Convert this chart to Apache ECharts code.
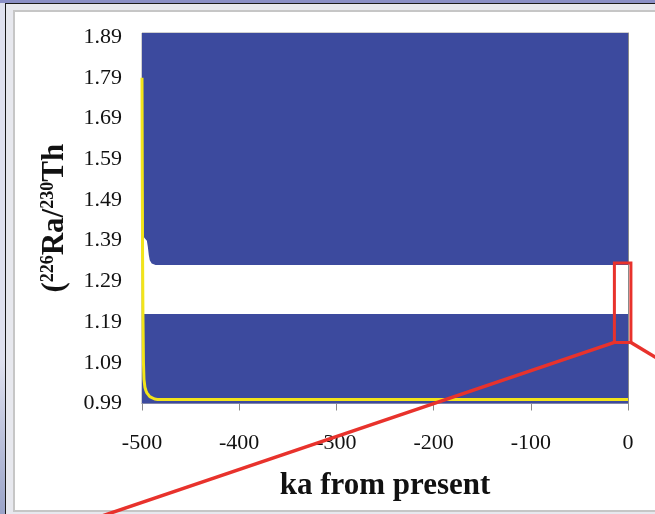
<!DOCTYPE html>
<html>
<head>
<meta charset="utf-8">
<script src="https://cdn.jsdelivr.net/npm/echarts@6/dist/echarts.min.js"></script>
<style>
  html, body { margin: 0; padding: 0; }
  body {
    width: 655px; height: 514px; overflow: hidden; position: relative;
    background: linear-gradient(to bottom, #dfe1ef 0%, #dfe1ef 70%, #9aa3c8 100%);
  }
  .topbar { position: absolute; left: 0; top: 0; width: 655px; height: 3px; background: #8a8fc6; }
  .frame {
    position: absolute; left: 5px; top: 3px; width: 660px; height: 520px;
    border-left: 1.5px solid #1a1a1a; border-top: 1.5px solid #1a1a1a;
    background: #e7e8ee;
  }
  .panel {
    position: absolute; left: 13px; top: 10px; width: 660px; height: 498px;
    border: 2px solid #c6c6c6; background: #fff;
  }
  #chart { position: absolute; left: 0; top: 0; width: 655px; height: 514px; }
</style>
</head>
<body>
<div class="topbar"></div>
<div class="frame"></div>
<div class="panel"></div>
<div id="chart"></div>
<script>
// ages in ka from present
const ageTicks = [-500, -400, -300, -200, -100, 0]
const ratioTicks = [0.99, 1.09, 1.19, 1.29, 1.39, 1.49, 1.59, 1.69, 1.79, 1.89]

// top of the blue field
const topAge = [-500, 0]
const topEdge = [1.9, 1.9]

// upper edge of the white (allowed) band
const upperAge = [-500, -498.5, -497, -495, -494, -493, -492, -490, -488, -486, 0]
const upperEdge = [1.79, 1.40, 1.395, 1.39, 1.375, 1.355, 1.342, 1.334, 1.331, 1.33, 1.33]

// lower edge of the white band
const lowerAge = [-500, 0]
const lowerEdge = [1.21, 1.21]

// yellow model curve
const modelAge = [-500, -499.7, -499.4, -499, -498.5, -498, -497, -496, -495, -494, -492, -490, -487, -484, 0]
const modelRatio = [1.79, 1.55, 1.35, 1.2, 1.09, 1.05, 1.03, 1.022, 1.016, 1.012, 1.007, 1.004, 1.001, 1.0, 1.0]

// red zoom box (data coords)
const boxAge = [-14, 3]
const boxRatio = [1.14, 1.335]

const zip = (xs, ys) => xs.map((x, i) => [x, ys[i]])

const chart = echarts.init(document.getElementById('chart'))
const serif = 'Liberation Serif'
const blue = '#3c4a9e'

const areaSeries = (data, color) => ({
  type: 'line',
  data: data,
  showSymbol: false,
  silent: true,
  lineStyle: { width: 0 },
  areaStyle: { color: color, opacity: 1, origin: 'start' }
})

chart.setOption({
  animation: false,
  grid: {
    left: 142, right: 27, top: 33, bottom: 110.5,
    show: true, borderColor: '#a0a0a0', borderWidth: 1, backgroundColor: 'transparent'
  },
  xAxis: {
    type: 'value',
    min: ageTicks[0], max: ageTicks[ageTicks.length - 1], interval: 100,
    axisLine: { lineStyle: { color: '#8a8a8a', width: 1 } },
    axisTick: { show: true, length: 7, lineStyle: { color: '#8a8a8a' } },
    axisLabel: { color: '#111', fontFamily: serif, fontSize: 22, margin: 29 },
    splitLine: { show: false },
    name: 'ka from present',
    nameLocation: 'middle',
    nameGap: 67,
    nameTextStyle: { color: '#111', fontFamily: serif, fontSize: 31, fontWeight: 'bold' }
  },
  yAxis: {
    type: 'value',
    min: 0.99, max: 1.9,
    axisLine: { show: true, lineStyle: { color: '#8a8a8a', width: 1 } },
    axisTick: { show: true, length: 7, customValues: ratioTicks, lineStyle: { color: '#8a8a8a' } },
    axisLabel: {
      color: '#111', fontFamily: serif, fontSize: 22, margin: 20,
      customValues: ratioTicks,
      formatter: v => v.toFixed(2)
    },
    splitLine: { show: false },
    name: '{b|(}{s|226}{b|Ra/}{s|230}{b|Th}',
    nameLocation: 'middle',
    nameRotate: 90,
    nameGap: 63,
    nameTextStyle: {
      padding: [0, 0, 8, 0],
      rich: {
        b: { fontFamily: serif, fontSize: 31, fontWeight: 'bold', color: '#111', lineHeight: 32 },
        s: { fontFamily: serif, fontSize: 18, fontWeight: 'bold', color: '#111', lineHeight: 32, verticalAlign: 'top' }
      }
    }
  },
  series: [
    areaSeries(zip(topAge, topEdge), blue),
    areaSeries(zip(upperAge, upperEdge), '#ffffff'),
    areaSeries(zip(lowerAge, lowerEdge), blue),
    {
      type: 'line',
      data: zip(modelAge, modelRatio),
      showSymbol: false,
      silent: true,
      clip: false,
      lineStyle: { color: '#f2e41a', width: 3 }
    }
  ]
})

// red zoom-lens annotation
const p0 = chart.convertToPixel({ gridIndex: 0 }, [boxAge[0], boxRatio[1]])
const p1 = chart.convertToPixel({ gridIndex: 0 }, [boxAge[1], boxRatio[0]])
const red = '#e8322c'
chart.setOption({
  graphic: [
    {
      type: 'rect', z: 100,
      shape: { x: p0[0], y: p0[1], width: p1[0] - p0[0], height: p1[1] - p0[1] },
      style: { fill: 'none', stroke: red, lineWidth: 3 }
    },
    {
      type: 'line', z: 100,
      shape: { x1: p0[0], y1: p1[1], x2: 96, y2: 518 },
      style: { stroke: red, lineWidth: 3.5 }
    },
    {
      type: 'line', z: 100,
      shape: { x1: p1[0], y1: p1[1], x2: 660, y2: 360 },
      style: { stroke: red, lineWidth: 3.5 }
    }
  ]
})
</script>
</body>
</html>
